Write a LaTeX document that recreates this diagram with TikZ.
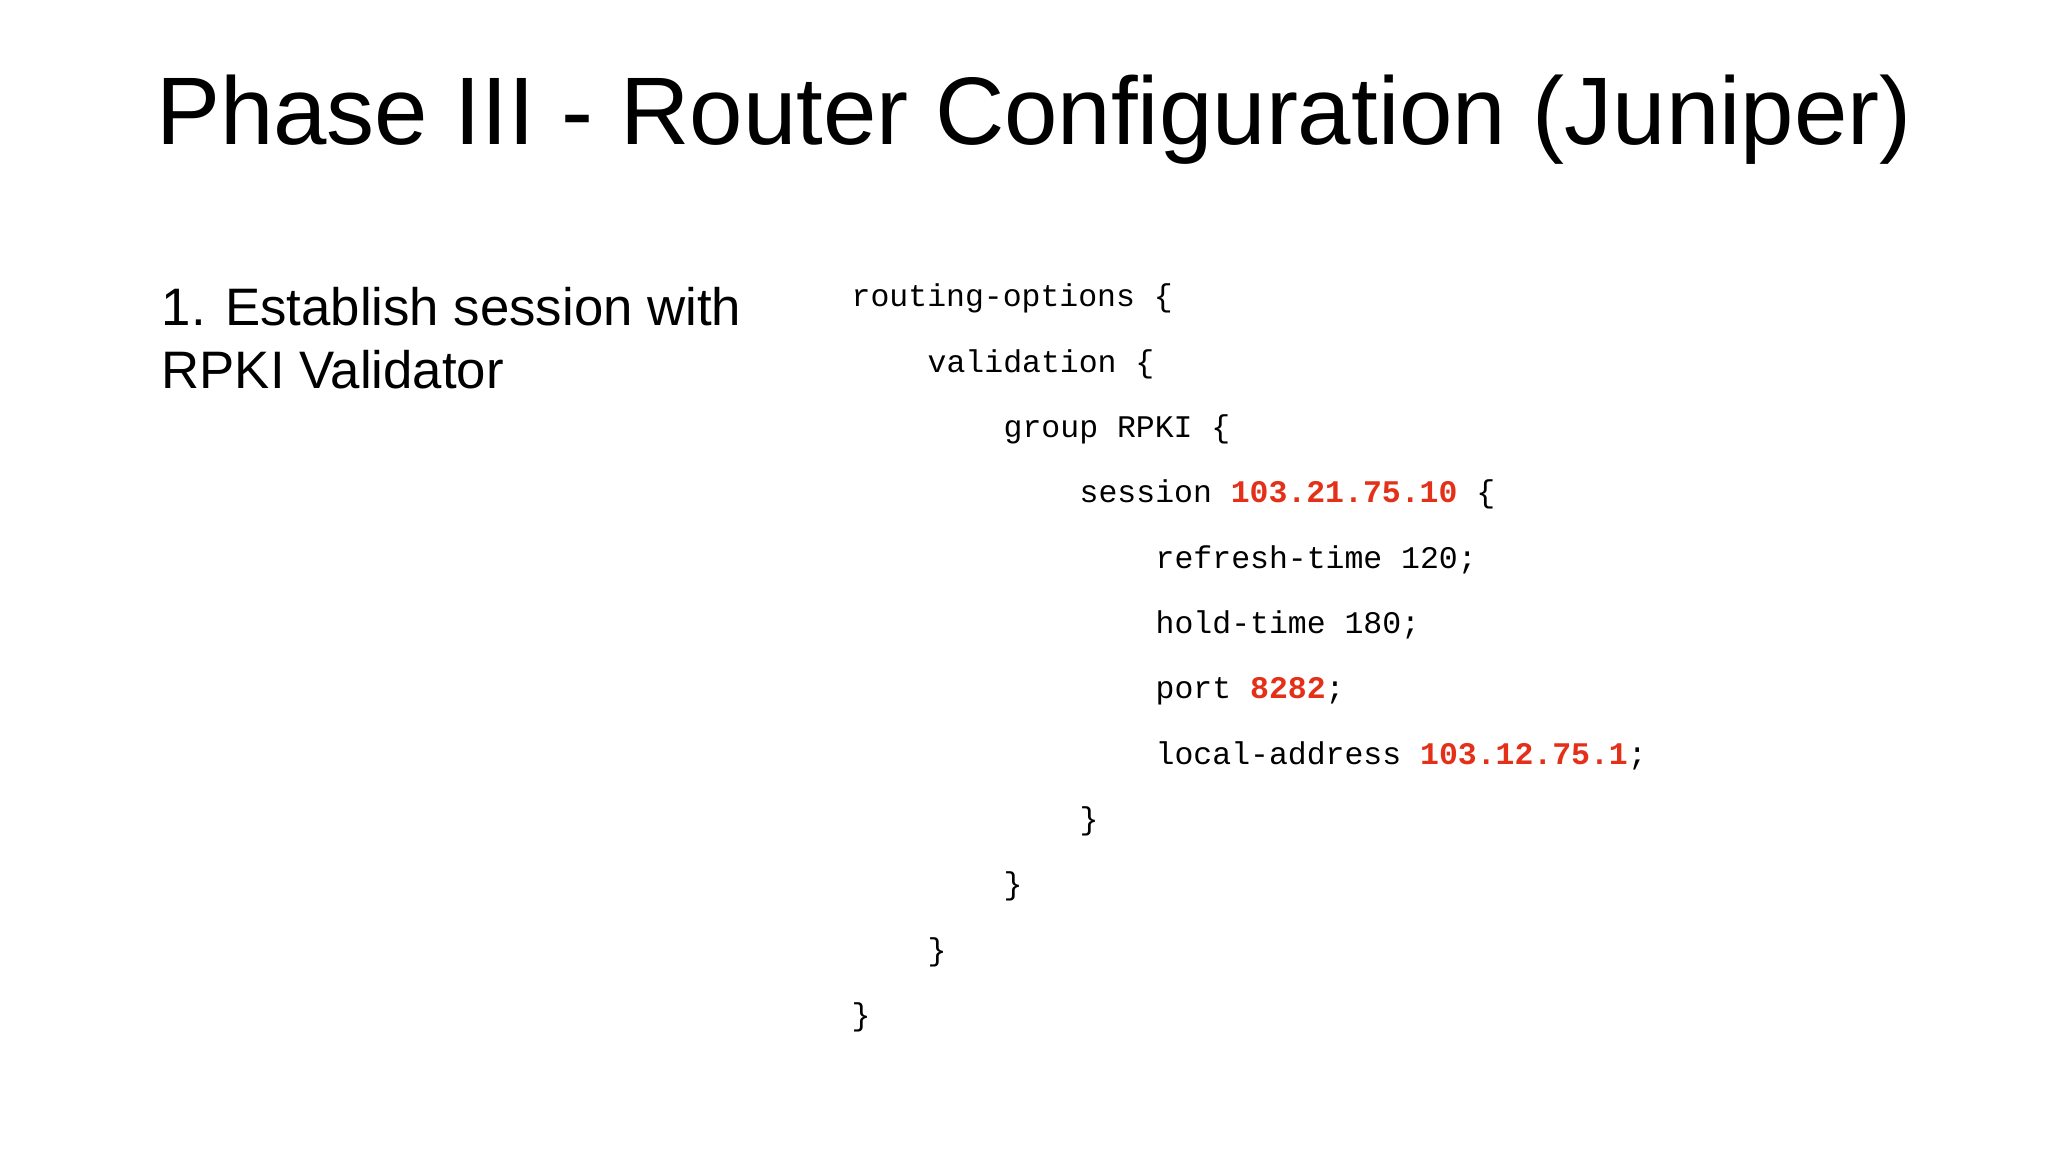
\documentclass[tikz,border=0pt]{standalone}
\usepackage{fontspec}
\setmainfont{Liberation Sans}
\setmonofont{Liberation Mono}
\definecolor{codered}{RGB}{228,48,24}
\newcommand{\rd}[1]{\textcolor{codered}{\bfseries #1}}
\begin{document}
\begin{tikzpicture}[x=0.01cm,y=-0.01cm,
  codeline/.style={anchor=base west,inner sep=0pt,font=\ttfamily\fontsize{8.95pt}{11pt}\selectfont},
  body/.style={anchor=base west,inner sep=0pt,font=\fontsize{15pt}{18pt}\selectfont}]
\useasboundingbox[fill=white] (0,0) rectangle (2048,1152);
\node[anchor=base,inner sep=0pt,font=\fontsize{27.3pt}{32pt}\selectfont] (title) at (1034,145) {Phase III - Router Configuration (Juniper)};
\node[body] (b1) at (161,326) {1. Establish session with};
\node[body] (b2) at (161,389) {RPKI Validator};
\node[codeline] (c1) at (851,307) {routing-options \{};
\node[codeline] (c2) at (927,372.3) {validation \{};
\node[codeline] (c3) at (1003,437.6) {group RPKI \{};
\node[codeline] (c4) at (1079,502.9) {session \rd{103.21.75.10} \{};
\node[codeline] (c5) at (1155,568.2) {refresh-time 120;};
\node[codeline] (c6) at (1155,633.5) {hold-time 180;};
\node[codeline] (c7) at (1155,698.8) {port \rd{8282};};
\node[codeline] (c8) at (1155,764.1) {local-address \rd{103.12.75.1};};
\node[codeline] (c9) at (1079,829.4) {\}};
\node[codeline] (c10) at (1003,894.7) {\}};
\node[codeline] (c11) at (927,960) {\}};
\node[codeline] (c12) at (851,1025.3) {\}};
\end{tikzpicture}
\end{document}
